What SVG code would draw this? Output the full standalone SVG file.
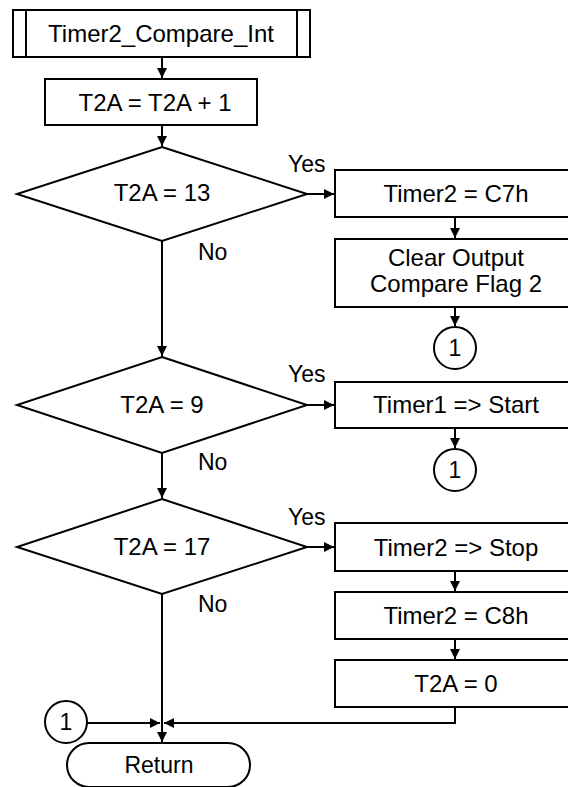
<svg xmlns="http://www.w3.org/2000/svg" width="568" height="787" viewBox="0 0 568 787">
<style>
.s{fill:#fff;stroke:#000;stroke-width:2}
.c{fill:none;stroke:#000;stroke-width:2}
text{font-family:"Liberation Sans",Arial,sans-serif;font-size:24px;fill:#000}
.m{text-anchor:middle}
.l{font-size:23px}
</style>
<defs>
<marker id="a" markerWidth="11" markerHeight="10" refX="10" refY="5" orient="auto" markerUnits="userSpaceOnUse">
<path d="M0,0 L10,5 L0,10 z" fill="#000"/>
</marker>
</defs>
<rect width="568" height="787" fill="#fff"/>
<g id="connectors">
<line class="c" x1="162" y1="57" x2="162" y2="78" marker-end="url(#a)"/>
<line class="c" x1="162" y1="125" x2="162" y2="146" marker-end="url(#a)"/>
<line class="c" x1="162" y1="241" x2="162" y2="356" marker-end="url(#a)"/>
<line class="c" x1="162" y1="452" x2="162" y2="498" marker-end="url(#a)"/>
<line class="c" x1="162" y1="594" x2="162" y2="742" marker-end="url(#a)"/>
<line class="c" x1="307" y1="194" x2="334" y2="194" marker-end="url(#a)"/>
<line class="c" x1="307" y1="405" x2="334" y2="405" marker-end="url(#a)"/>
<line class="c" x1="307" y1="547" x2="334" y2="547" marker-end="url(#a)"/>
<line class="c" x1="455" y1="217" x2="455" y2="238" marker-end="url(#a)"/>
<line class="c" x1="455" y1="307" x2="455" y2="326" marker-end="url(#a)"/>
<line class="c" x1="455" y1="428" x2="455" y2="448" marker-end="url(#a)"/>
<line class="c" x1="455" y1="571" x2="455" y2="591" marker-end="url(#a)"/>
<line class="c" x1="455" y1="639" x2="455" y2="659" marker-end="url(#a)"/>
<polyline class="c" points="455,707 455,723 164,723" marker-end="url(#a)"/>
<line class="c" x1="87" y1="723" x2="160" y2="723" marker-end="url(#a)"/>
<text class="l" x="288" y="172">Yes</text>
<text class="l" x="198" y="260">No</text>
<text class="l" x="288" y="382">Yes</text>
<text class="l" x="198" y="470">No</text>
<text class="l" x="288" y="525">Yes</text>
<text class="l" x="198" y="612">No</text>
</g>
<g id="start">
<rect class="s" x="13" y="10" width="297" height="47"/>
<line class="c" x1="26" y1="10" x2="26" y2="57"/>
<line class="c" x1="297" y1="10" x2="297" y2="57"/>
<text class="m" x="161" y="42">Timer2_Compare_Int</text>
</g>
<g id="inc">
<rect class="s" x="45" y="79" width="212" height="46"/>
<text class="m" x="155" y="111">T2A = T2A + 1</text>
</g>
<g id="d13">
<polygon class="s" points="162,147 307,194 162,241 17,194"/>
<text class="m" x="162" y="201">T2A = 13</text>
</g>
<g id="c7h">
<rect class="s" x="335" y="170" width="240" height="47"/>
<text class="m" x="456" y="202">Timer2 = C7h</text>
</g>
<g id="clear">
<rect class="s" x="335" y="239" width="240" height="68"/>
<text class="m" x="456" y="266">Clear Output</text>
<text class="m" x="456" y="292">Compare Flag 2</text>
</g>
<g id="conn1a">
<circle class="s" cx="455" cy="348" r="21"/>
<text class="m l" x="455" y="356">1</text>
</g>
<g id="d9">
<polygon class="s" points="162,357 307,405 162,453 17,405"/>
<text class="m" x="162" y="413">T2A = 9</text>
</g>
<g id="t1start">
<rect class="s" x="335" y="382" width="240" height="46"/>
<text class="m" x="456" y="413">Timer1 =&gt; Start</text>
</g>
<g id="conn1b">
<circle class="s" cx="455" cy="470" r="21"/>
<text class="m l" x="455" y="478">1</text>
</g>
<g id="d17">
<polygon class="s" points="162,499 307,547 162,594 17,547"/>
<text class="m" x="162" y="555">T2A = 17</text>
</g>
<g id="t2stop">
<rect class="s" x="335" y="523" width="240" height="48"/>
<text class="m" x="456" y="556">Timer2 =&gt; Stop</text>
</g>
<g id="c8h">
<rect class="s" x="335" y="592" width="240" height="47"/>
<text class="m" x="456" y="624">Timer2 = C8h</text>
</g>
<g id="t2a0">
<rect class="s" x="335" y="660" width="240" height="47"/>
<text class="m" x="456" y="692">T2A = 0</text>
</g>
<g id="conn1c">
<circle class="s" cx="66" cy="722" r="21"/>
<text class="m l" x="66" y="730">1</text>
</g>
<g id="return">
<rect class="s" x="67" y="743" width="183" height="44" rx="22" ry="22"/>
<text class="m l" x="159" y="773">Return</text>
</g>
</svg>
